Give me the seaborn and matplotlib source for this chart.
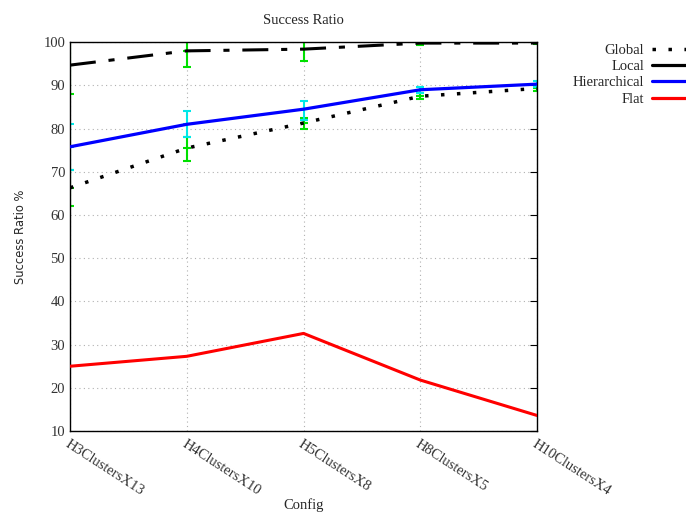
import matplotlib
matplotlib.use("Agg")
import matplotlib.pyplot as plt
import numpy as np
import pandas as pd
import seaborn as sns
from matplotlib.lines import Line2D

configs = ["H3ClustersX13", "H4ClustersX10", "H5ClustersX8", "H8ClustersX5", "H10ClustersX4"]

global_vals = [66.3, 75.5, 81.3, 87.5, 89.3]
global_lo = [62.0, 72.5, 80.0, 86.8, 88.8]
global_hi = [70.5, 78.0, 82.5, 88.2, 89.8]

local_vals = [94.7, 98.0, 98.4, 99.8, 99.8]
local_lo = [88.0, 94.3, 95.6, 99.4, 99.6]
local_hi = [101.0, 101.0, 100.5, 100.2, 100.0]

hier_vals = [75.8, 81.0, 84.5, 89.0, 90.3]
hier_lo = [70.5, 78.0, 82.0, 88.2, 89.6]
hier_hi = [81.0, 84.0, 86.4, 89.7, 91.0]

flat_vals = [25.0, 27.3, 32.6, 21.8, 13.6]

sns.set_style("white")
plt.rcParams['font.family'] = ['Liberation Serif', 'DejaVu Serif']
plt.rcParams['font.size'] = 10.5

x = np.arange(len(configs))
df = pd.DataFrame({
    "x": np.tile(x, 4),
    "value": global_vals + local_vals + hier_vals + flat_vals,
    "series": ["Global"] * 5 + ["Local"] * 5 + ["Hierarchical"] * 5 + ["Flat"] * 5,
})

fig = plt.figure(figsize=(6.86, 5.15), dpi=100)
ax = fig.add_axes([0.102, 0.163, 0.681, 0.755])

# error bars (drawn first, under the lines)
def err(vals, lo, hi, color):
    v = np.array(vals)
    yerr = [v - np.array(lo), np.array(hi) - v]
    ax.errorbar(x, v, yerr=yerr, fmt='none', ecolor=color, elinewidth=1.5,
                capsize=3, capthick=1.5, zorder=2)
    ax.scatter(x, v, marker='_', s=40, color=color, linewidths=1.5, zorder=2)

err(global_vals, global_lo, global_hi, '#00e000')
err(local_vals, local_lo, local_hi, '#00e000')
err(hier_vals, hier_lo, hier_hi, '#00e8e8')

GLOBAL_DASH = (1.0, 3.6)
LOCAL_DASH = (8.5, 4.2, 2.0, 4.2)
styles = {
    "Global": dict(color="black", dashes=GLOBAL_DASH, lw=2.5, cap='butt'),
    "Local": dict(color="black", dashes=LOCAL_DASH, lw=2.2, cap='butt'),
    "Hierarchical": dict(color="#0000ff", dashes=None, lw=2.3, cap='butt'),
    "Flat": dict(color="#ff0000", dashes=None, lw=2.2, cap='butt'),
}
for name, st in styles.items():
    sub = df[df["series"] == name]
    sns.lineplot(data=sub, x="x", y="value", ax=ax, color=st["color"],
                 linewidth=st["lw"], zorder=3, legend=False)
    line = ax.get_lines()[-1]
    if st["dashes"]:
        line.set_dashes(st["dashes"])
        line.set_dash_capstyle(st["cap"])

ax.set_xlim(0, 4)
ax.set_ylim(10, 100)
ax.set_yticks(range(10, 101, 10))
ax.set_xticks(x)
ax.set_xticklabels(configs, rotation=-33, ha='left', va='top', rotation_mode='anchor')
ax.tick_params(direction='in', length=5, width=0.8, top=False, right=True,
               colors='black', labelsize=10.5, labelcolor='#333333')
ax.tick_params(axis='x', pad=5)
ax.grid(True, linestyle=(0, (1, 3)), color='#b0b0b0', linewidth=0.8)
for s in ax.spines.values():
    s.set_color('black')
    s.set_linewidth(1.0)

ax.set_xlabel("Config", fontsize=10.5, labelpad=0)
ax.set_ylabel("Success Ratio %", fontsize=8.3, family=['DejaVu Sans'], labelpad=12)
ax.set_title("Success Ratio", fontsize=10.5, pad=13)

handles = [
    Line2D([], [], color="black", lw=2.5, dashes=GLOBAL_DASH),
    Line2D([], [], color="black", lw=2.3),
    Line2D([], [], color="#0000ff", lw=2.3),
    Line2D([], [], color="#ff0000", lw=2.3),
]
fig.legend(handles, ["Global", "Local", "Hierarchical", "Flat"], loc='upper right',
           bbox_to_anchor=(1.037, 0.94), frameon=False, markerfirst=False,
           handlelength=3.2, labelspacing=0.2, handletextpad=0.5, fontsize=10.5)

fig.savefig("out.png", dpi=100)
